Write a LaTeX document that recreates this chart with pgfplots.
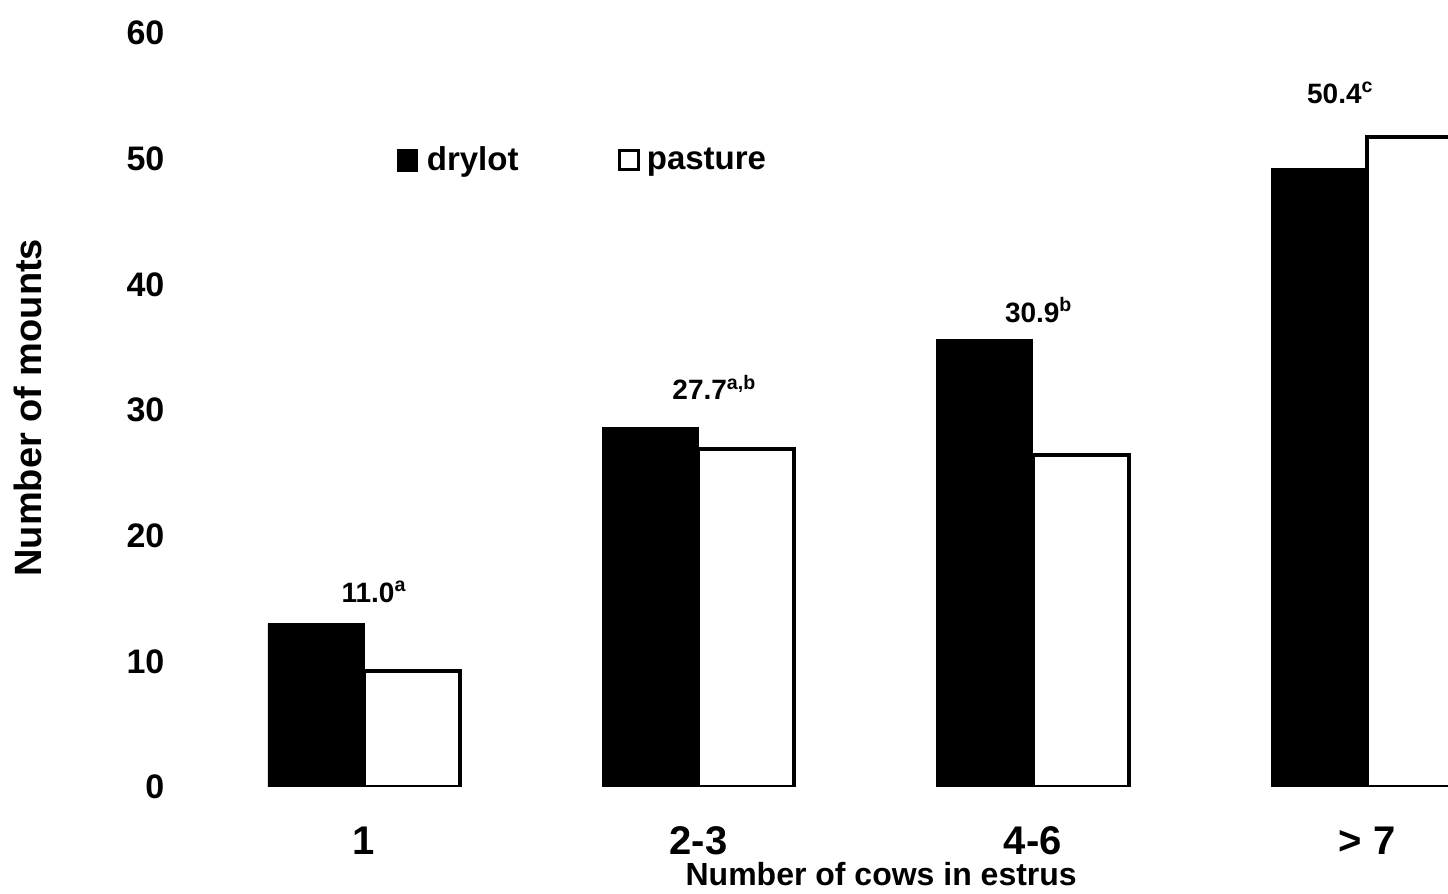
\documentclass[border=0pt]{standalone}
\usepackage{fontspec}
\setmainfont{Liberation Sans}
\usepackage{pgfplots}
\pgfplotsset{compat=1.18}
\begin{document}
\begin{tikzpicture}
\useasboundingbox (0,0) rectangle (724pt,447pt);
\begin{axis}[
  at={(98.4pt,53.5pt)}, anchor=south west,
  scale only axis, width=625.6pt, height=377pt,
  xmin=-0.5, xmax=3.242, ymin=0, ymax=60,
  ybar=0pt, bar width=48pt,
  axis line style={draw=none},
  major tick length=0pt,
  xtick={0,1,2,3}, xticklabels={1,2-3,4-6,> 7},
  ytick={0,10,...,60},
  /pgf/number format/assume math mode=true,
  yticklabel style={font=\fontsize{17}{17}\selectfont\bfseries, anchor=east, inner sep=0pt, xshift=-16pt},
  xticklabel style={font=\fontsize{20}{20}\selectfont\bfseries, anchor=base, inner sep=0pt, yshift=-34pt},
  xlabel={Number of cows in estrus},
  xlabel style={at={(axis description cs:0.547,-0.131)}, anchor=base, inner sep=0pt, font=\fontsize{16}{16}\selectfont\bfseries},
  ylabel={Number of mounts},
  ylabel style={at={(axis description cs:-0.1349,0.503)}, anchor=center, inner sep=0pt, font=\fontsize{19}{19}\selectfont\bfseries},
  legend columns=2,
  legend style={at={(axis cs:0.099,49.9)}, anchor=west, draw=none, fill=none, inner sep=0pt,
    font=\fontsize{16.5}{16.5}\selectfont\bfseries,
    nodes={inner sep=1.5pt}},
]
\addplot[fill=black, draw=black,
  legend image code/.code={\draw[fill=black,draw=black] (0pt,-5.5pt) rectangle (10pt,5.5pt); \path[draw=none,fill=none] (0pt,0pt) -- (13pt,0pt);}]
  coordinates {(0,13.0) (1,28.6) (2,35.6) (3,49.2)};
\addlegendentry{\makebox[94pt][l]{drylot}}
\addplot[fill=white, draw=black, line width=2pt,
  legend image code/.code={\draw[fill=white,draw=black,line width=1.4pt] (0.7pt,-4.8pt) rectangle (10.3pt,4.8pt); \path[draw=none,fill=none] (0pt,0pt) -- (13pt,0pt);}]
  coordinates {(0,9.2) (1,26.9) (2,26.4) (3,51.7)};
\addlegendentry{pasture}
\node[anchor=base, font=\fontsize{14}{14}\selectfont\bfseries] at (axis cs:0.03,14.7) {11.0\textsuperscript{a}};
\node[anchor=base, font=\fontsize{14}{14}\selectfont\bfseries] at (axis cs:1.048,30.8) {27.7\textsuperscript{a,b}};
\node[anchor=base, font=\fontsize{14}{14}\selectfont\bfseries] at (axis cs:2.018,37.0) {30.9\textsuperscript{b}};
\node[anchor=base, font=\fontsize{14}{14}\selectfont\bfseries] at (axis cs:2.92,54.4) {50.4\textsuperscript{c}};
\end{axis}
\end{tikzpicture}
\end{document}
